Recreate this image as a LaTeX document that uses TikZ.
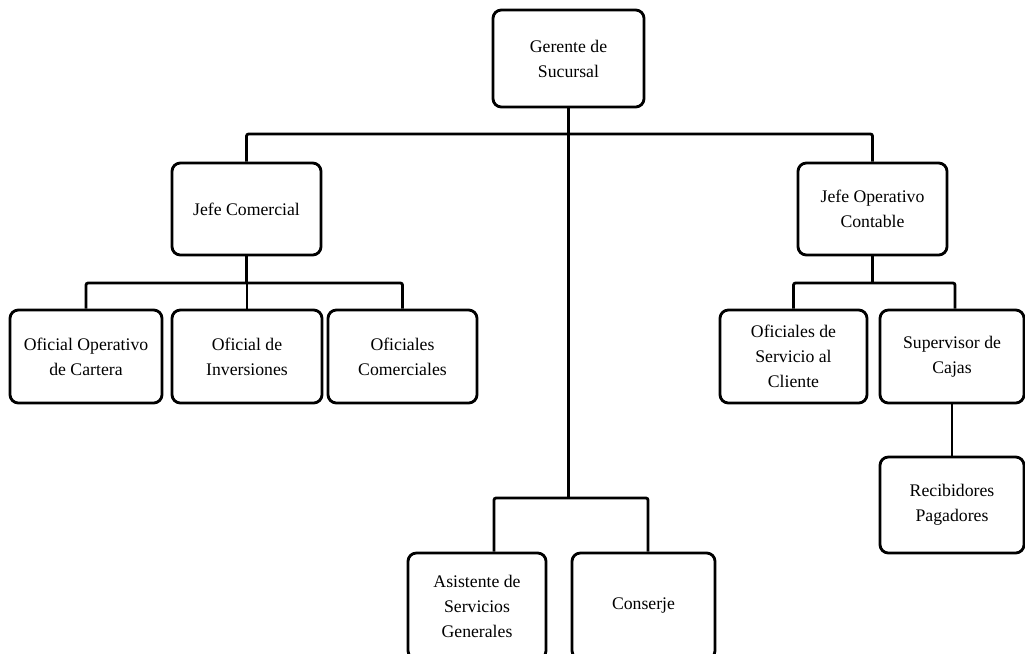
\documentclass[tikz,border=0pt]{standalone}
\usepackage{fontspec}
\setmainfont{Liberation Serif}
\usetikzlibrary{calc}
\tikzset{
  blk/.style={draw,rectangle,rounded corners=6pt,line width=2pt,fill=white,align=center,inner sep=0pt,font=\fontsize{12.6}{17.8}\selectfont},
  conn/.style={line width=2pt,rounded corners=1.5pt}
}
\begin{document}
\begin{tikzpicture}[x=0.025cm,y=-0.025cm]
  \useasboundingbox[fill=white] (0,0) rectangle (1025,653);

  % connectors first, boxes on top
  \coordinate (busTop) at (568.5,134);
  \coordinate (busLow) at (568.5,498);
  \coordinate (jcomBus) at (246.5,283);
  \coordinate (jopBus) at (872.5,283);

  \node[blk,minimum width=3.775cm,minimum height=2.425cm] (gerente) at (568.5,58.5) {Gerente de\\Sucursal};

  \node[blk,minimum width=3.725cm,minimum height=2.3cm] (jcom) at (246.5,209) {Jefe Comercial};
  \node[blk,minimum width=3.725cm,minimum height=2.3cm] (jop) at (872.5,209) {Jefe Operativo\\Contable};

  \node[blk,minimum width=3.8cm,minimum height=2.325cm] (ofop) at (86,356.5) {Oficial Operativo\\de Cartera};
  \node[blk,minimum width=3.75cm,minimum height=2.325cm] (ofinv) at (247,356.5) {Oficial de\\Inversiones};
  \node[blk,minimum width=3.725cm,minimum height=2.325cm] (ofcom) at (402.5,356.5) {Oficiales\\Comerciales};

  \node[blk,minimum width=3.675cm,minimum height=2.325cm] (ofserv) at (793.5,356.5) {Oficiales de\\Servicio al\\Cliente};
  \node[blk,minimum width=3.6cm,minimum height=2.325cm] (supcaj) at (952,356.5) {Supervisor de\\Cajas};
  \node[blk,minimum width=3.6cm,minimum height=2.4cm] (recib) at (952,505) {Recibidores\\Pagadores};

  % lower pair runs past the page edge
  \node[blk,minimum width=3.45cm,minimum height=2.65cm] (asist) at (477,606) {Asistente de\\Servicios\\Generales};
  \node[blk,minimum width=3.575cm,minimum height=2.65cm] (consj) at (643.5,606) {Conserje};

  \draw[conn] (gerente.south) -- (busLow);
  \draw[conn] (jcom.north) |- (busTop) -| (jop.north);

  \draw[conn] (jcom.south) -- (jcomBus);
  \draw[conn] (ofop.north) |- (jcomBus) -| (ofcom.north);
  \draw[conn] (ofinv.north) -- (ofinv.north |- jcomBus);

  \draw[conn] (jop.south) -- (jopBus);
  \draw[conn] (ofserv.north) |- (jopBus) -| ($(supcaj.north)+(3,0)$);
  \draw[conn] (supcaj) -- (recib);

  \draw[conn] ($(asist.north)+(17,0)$) |- (busLow) -| ($(consj.north)+(4.5,0)$);
\end{tikzpicture}
\end{document}
